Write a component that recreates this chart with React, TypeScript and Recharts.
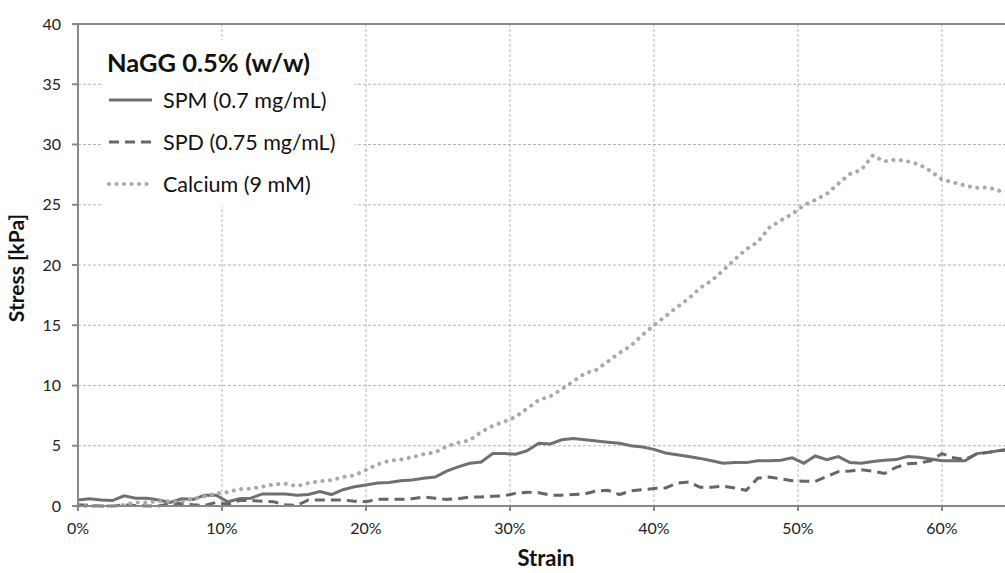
import React from 'react';
import {
  LineChart,
  Line,
  XAxis,
  YAxis,
  CartesianGrid,
  Legend,
  ReferenceLine,
} from 'recharts';

// strain in %, one reading every 0.8 %
const strain = [
  0, 0.8, 1.6, 2.4, 3.2, 4.0, 4.8, 5.6, 6.4, 7.2, 8.0, 8.8, 9.6, 10.4, 11.2, 12.0, 12.8, 13.6, 14.4, 15.2,
  16.0, 16.8, 17.6, 18.4, 19.2, 20.0, 20.8, 21.6, 22.4, 23.2, 24.0, 24.8, 25.6, 26.4, 27.2, 28.0, 28.8, 29.6,
  30.4, 31.2, 32.0, 32.8, 33.6, 34.4, 35.2, 36.0, 36.8, 37.6, 38.4, 39.2, 40.0, 40.8, 41.6, 42.4, 43.2, 44.0,
  44.8, 45.6, 46.4, 47.2, 48.0, 48.8, 49.6, 50.4, 51.2, 52.0, 52.8, 53.6, 54.4, 55.2, 56.0, 56.8, 57.6, 58.4,
  59.2, 60.0, 60.8, 61.6, 62.4, 63.2, 64.0, 64.8, 65.6,
];

// stress in kPa
const spm = [
  0.5, 0.6, 0.5, 0.45, 0.85, 0.65, 0.65, 0.5, 0.3, 0.6, 0.55, 0.9, 0.9, 0.35, 0.6, 0.65, 1.0, 1.0, 1.0, 0.9,
  0.95, 1.2, 0.95, 1.35, 1.6, 1.75, 1.9, 1.95, 2.1, 2.15, 2.3, 2.4, 2.9, 3.25, 3.55, 3.65, 4.35, 4.35,
  4.3, 4.6, 5.2, 5.15, 5.5, 5.6, 5.5, 5.4, 5.3, 5.2, 5.0, 4.9, 4.7, 4.4, 4.25, 4.1, 3.95, 3.75,
  3.55, 3.6, 3.6, 3.75, 3.75, 3.8, 4.0, 3.55, 4.15, 3.85, 4.1, 3.6, 3.55, 3.7, 3.8, 3.85, 4.1, 4.05,
  3.9, 3.75, 3.75, 3.75, 4.35, 4.45, 4.6, 4.7, 4.8,
];

const spd = [
  0.1, 0.05, 0, 0, 0.1, 0.05, 0, 0, 0.2, 0.2, 0.1, 0.05, 0.3, 0.15, 0.45, 0.45, 0.4, 0.35, 0.1, 0.05,
  0.5, 0.5, 0.5, 0.5, 0.4, 0.35, 0.55, 0.55, 0.55, 0.6, 0.75, 0.65, 0.55, 0.6, 0.75, 0.75, 0.8, 0.85,
  1.05, 1.15, 1.1, 0.9, 0.9, 0.95, 1.0, 1.25, 1.3, 0.95, 1.25, 1.35, 1.45, 1.5, 1.9, 2.0, 1.55, 1.55,
  1.65, 1.5, 1.3, 2.3, 2.4, 2.25, 2.1, 2.05, 2.05, 2.45, 2.85, 2.9, 3.0, 2.9, 2.7, 3.2, 3.5, 3.55,
  3.75, 4.35, 4.0, 3.85, 4.3, 4.45, 4.6, 4.7, 4.8,
];

const calcium = [
  0, 0, 0, 0, 0.1, 0.3, 0.3, 0.4, 0.4, 0.35, 0.6, 0.8, 1.05, 1.15, 1.4, 1.45, 1.6, 1.8, 1.85, 1.65,
  1.9, 2.05, 2.15, 2.4, 2.55, 3.0, 3.45, 3.75, 3.85, 4.05, 4.3, 4.45, 4.95, 5.25, 5.45, 6.15, 6.65, 7.0,
  7.4, 8.1, 8.8, 9.1, 9.7, 10.35, 11.0, 11.3, 12.0, 12.7, 13.3, 14.2, 15.0, 15.75, 16.5, 17.2, 18.1, 18.7,
  19.55, 20.45, 21.3, 21.9, 23.1, 23.7, 24.25, 24.95, 25.4, 25.9, 26.75, 27.55, 27.9, 29.1, 28.6, 28.75, 28.6, 28.35,
  27.8, 27.1, 26.85, 26.6, 26.4, 26.45, 26.15, 26.2, 26.1,
];

// the 70 % line sits past the right edge of the picture, so only 0-60 % get labels
const xTicks = [0, 10, 20, 30, 40, 50, 60];
const yTicks = [0, 5, 10, 15, 20, 25, 30, 35, 40];

const series = [
  { key: 'spm', name: 'SPM (0.7 mg/mL)', color: '#707070', width: 3, dash: undefined, cap: 'butt' },
  { key: 'spd', name: 'SPD (0.75 mg/mL)', color: '#666666', width: 3, dash: '10 6', cap: 'butt' },
  { key: 'calcium', name: 'Calcium (9 mM)', color: '#a9a9a9', width: 4, dash: '0.1 7.4', cap: 'round' },
];

const data = strain.map((s, i) => ({
  strain: s,
  spm: spm[i],
  spd: spd[i],
  calcium: calcium[i],
}));

const FONT = 'Lato, "Open Sans", sans-serif';

function LegendBox() {
  return (
    <div style={{ background: '#fff', width: 254, height: 166, fontFamily: FONT, color: '#111' }}>
      <div style={{ fontWeight: 700, fontSize: 25.5, padding: '7px 0 0 6px', height: 39, boxSizing: 'border-box' }}>
        NaGG 0.5% (w/w)
      </div>
      {series.map((s) => (
        <div key={s.key} style={{ display: 'flex', alignItems: 'center', height: 42 }}>
          <svg width={62} height={12}>
            <line
              x1={8}
              y1={6}
              x2={51}
              y2={6}
              stroke={s.color}
              strokeWidth={s.width}
              strokeDasharray={s.dash}
              strokeLinecap={s.cap as any}
            />
          </svg>
          <span style={{ fontSize: 21.5 }}>{s.name}</span>
        </div>
      ))}
    </div>
  );
}

export default function App() {
  return (
    <div style={{ position: 'fixed', left: 0, top: 0, width: 1005, height: 573, overflow: 'hidden', background: '#fff' }}>
      <LineChart width={1100} height={573} data={data} margin={{ top: 24, right: 14, left: 0, bottom: 27 }}>
        <CartesianGrid stroke="#b4b4b4" strokeDasharray="3 2" />
        <XAxis
          type="number"
          dataKey="strain"
          domain={[0, 70]}
          ticks={xTicks}
          tickFormatter={(v) => `${v}%`}
          height={40}
          stroke="#888"
          strokeWidth={2}
          tickSize={5}
          tickMargin={12}
          tick={{ fill: '#222', fontSize: 16, fontFamily: FONT }}
          label={{
            content: () => (
              <text x={546} y={566} textAnchor="middle" fontFamily={FONT} fontWeight={700} fontSize={22} fill="#111">
                Strain
              </text>
            ),
          }}
        />
        <YAxis
          domain={[0, 40]}
          ticks={yTicks}
          width={78}
          stroke="#888"
          strokeWidth={2}
          tickSize={6}
          tickMargin={11}
          tick={{ fill: '#222', fontSize: 16, fontFamily: FONT }}
          label={{
            content: () => (
              <text
                x={24}
                y={268}
                textAnchor="middle"
                transform="rotate(-90 24 268)"
                fontFamily={FONT}
                fontWeight={700}
                fontSize={21}
                fill="#111"
              >
                Stress [kPa]
              </text>
            ),
          }}
        />
        <ReferenceLine y={40} stroke="#888" strokeWidth={2} />
        <Legend
          layout="vertical"
          align="center"
          verticalAlign="middle"
          content={() => <LegendBox />}
          wrapperStyle={{ left: 101, top: 40, width: 254, height: 166 }}
        />
        {series.map((s) => (
          <Line
            key={s.key}
            type="linear"
            dataKey={s.key}
            name={s.name}
            stroke={s.color}
            strokeWidth={s.width}
            strokeDasharray={s.dash}
            strokeLinecap={s.cap as any}
            dot={false}
            activeDot={false}
            isAnimationActive={false}
          />
        ))}
      </LineChart>
    </div>
  );
}
